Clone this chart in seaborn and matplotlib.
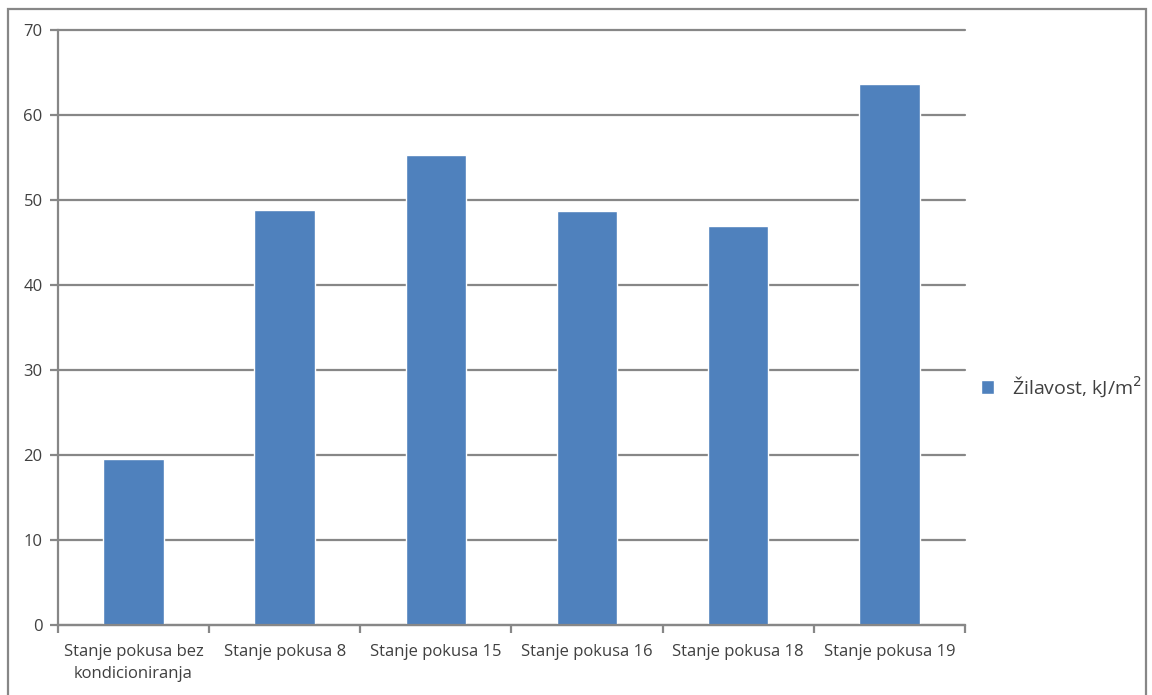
import pandas as pd
import matplotlib
matplotlib.use("Agg")
import matplotlib.pyplot as plt
import seaborn as sns
from matplotlib.patches import Rectangle

# data
stanja = ["Stanje pokusa bez\nkondicioniranja", "Stanje pokusa 8", "Stanje pokusa 15",
          "Stanje pokusa 16", "Stanje pokusa 18", "Stanje pokusa 19"]
zilavost = [19.5, 48.8, 55.3, 48.7, 46.9, 63.6]
serija = "Žilavost, kJ/m$^2$"
y_ticks = [0, 10, 20, 30, 40, 50, 60, 70]

df = pd.DataFrame({"stanje": stanja, "vrijednost": zilavost, "serija": serija})

sns.set_theme(style="white")
plt.rcParams["font.family"] = ["Open Sans", "DejaVu Sans"]

text_col = "#404040"
line_col = "#878787"

fig = plt.figure(figsize=(11.52, 6.95), dpi=100)
ax = fig.add_axes([0.0503, 0.1007, 0.7874, 0.8561])

sns.barplot(data=df, x="stanje", y="vrijednost", hue="serija",
            palette=["#4F81BD"], width=0.4, ax=ax, saturation=1)

ax.set_xlim(-0.5, 5.5)
ax.set_ylim(0, 70)
ax.set_yticks(y_ticks)
ax.set_xlabel("")
ax.set_ylabel("")

# horizontal grid lines
ax.yaxis.grid(True, color=line_col, linewidth=1.6)
ax.set_axisbelow(True)
for gl in ax.get_ygridlines():
    gl.set_clip_on(False)

for side in ["top", "right"]:
    ax.spines[side].set_visible(False)
for side in ["left", "bottom"]:
    ax.spines[side].set_color(line_col)
    ax.spines[side].set_linewidth(1.6)

# ticks: labels at centres, tick marks between categories
ax.set_xticks(range(len(stanja)))
ax.set_xticklabels(stanja, fontsize=12, color=text_col, linespacing=1.45)
ax.set_xticks([i - 0.5 for i in range(len(stanja) + 1)], minor=True)
ax.tick_params(axis="x", which="major", length=0, pad=14)
ax.tick_params(axis="x", which="minor", length=6, width=1.6, color=line_col, direction="out")
ax.tick_params(axis="y", length=6, width=1.6, color=line_col, direction="out",
               labelsize=12, labelcolor=text_col, pad=5)
ax.tick_params(bottom=True, left=True, which="both")

sns.move_legend(ax, "center left", bbox_to_anchor=(0.998, 0.4), frameon=False, title=None,
                fontsize=14, handlelength=0.7, handleheight=0.7, handletextpad=0.9)
for t in ax.get_legend().get_texts():
    t.set_color(text_col)

# outer chart border
fig.patches.append(Rectangle((8 / 1152, -0.02), 1138 / 1152, 1.02 - 9 / 695,
                             transform=fig.transFigure, fill=False,
                             edgecolor=line_col, linewidth=1.6))

fig.savefig("out.png", dpi=100)
